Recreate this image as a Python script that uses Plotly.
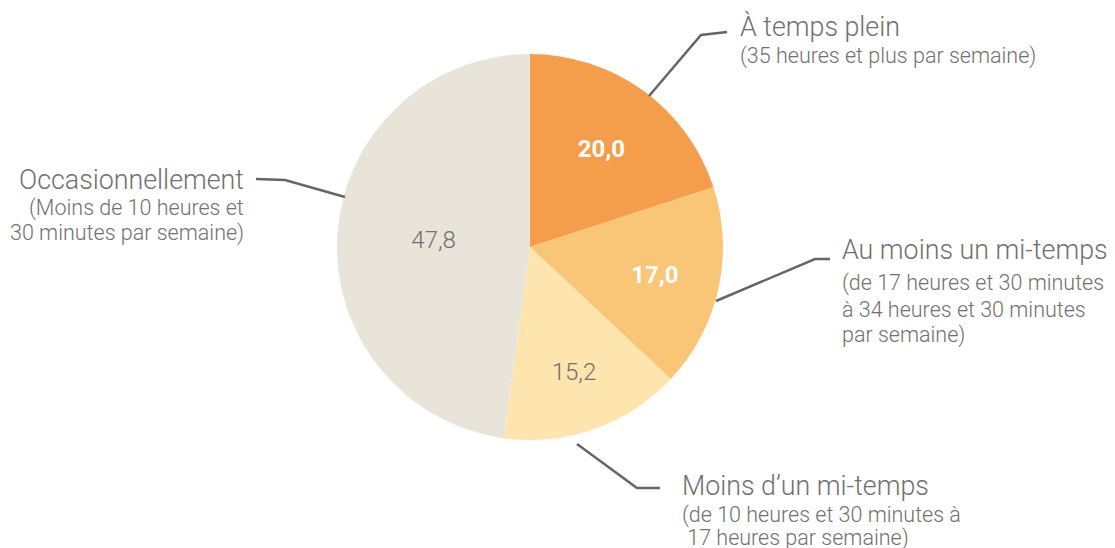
import plotly.graph_objects as go

# ---- data ----
categories = ["À temps plein", "Au moins un mi-temps", "Moins d’un mi-temps", "Occasionnellement"]
subtitles = [
    ["(35 heures et plus par semaine)"],
    ["(de 17 heures et 30 minutes", "à 34 heures et 30 minutes", "par semaine)"],
    ["(de 10 heures et 30 minutes à", " 17 heures par semaine)"],
    ["(Moins de 10 heures et", "30 minutes par semaine)"],
]
values = [20.0, 17.0, 15.2, 47.8]
colors = ["#F49D4A", "#F9C577", "#FEE4AD", "#E8E4D9"]
text_colors = ["#FFFFFF", "#FFFFFF", "#707070", "#707070"]
text_weights = [700, 700, 300, 300]

W, H = 1115, 548
FONT = "Roboto"
GREY = "#707070"

def px(x):
    return x / W

def py(y):
    return 1 - y / H

cx, cy, r = 530, 247, 193

fig = go.Figure(go.Pie(
    labels=categories,
    values=values,
    sort=False,
    direction="clockwise",
    rotation=0,
    marker=dict(colors=colors, line=dict(width=0)),
    texttemplate="%{value:.1f}",
    textposition="inside",
    insidetextorientation="horizontal",
    textfont=dict(family=FONT, size=24, color=text_colors, weight=text_weights),
    hoverinfo="label+value",
    showlegend=False,
    domain=dict(x=[px(cx - r), px(cx + r)], y=[py(cy + r), py(cy - r)]),
))

# label layout (pixel positions of label blocks and leader lines)
label_specs = [
    dict(anchor="left", x=738, ys=[27, 56], line=[(649, 96), (701, 35), (727, 32)]),
    dict(anchor="left", x=840, ys=[250, 283, 309, 335], line=[(716, 301), (815, 259), (830, 259)]),
    dict(anchor="left", x=680, ys=[486, 515, 538], line=[(577, 444), (637, 488), (660, 488)]),
    dict(anchor="right", x=246, ys=[180, 208, 233], line=[(345, 197), (285, 180), (256, 179)]),
]

annotations = []
shapes = []
for cat, subs, spec in zip(categories, subtitles, label_specs):
    lines = [cat] + subs
    for i, (t, y) in enumerate(zip(lines, spec["ys"])):
        annotations.append(dict(
            text=t, x=px(spec["x"]), y=py(y), xref="paper", yref="paper",
            xanchor=spec["anchor"], yanchor="middle", showarrow=False,
            font=dict(family=FONT, size=26.8 if i == 0 else 21.5, color=GREY, weight=300),
        ))
    pts = spec["line"]
    path = "M " + " L ".join(f"{px(a)},{py(b)}" for a, b in pts)
    shapes.append(dict(type="path", path=path, xref="paper", yref="paper",
                       line=dict(color="#666666", width=2.5)))

fig.update_layout(
    width=W, height=H,
    margin=dict(l=0, r=0, t=0, b=0),
    paper_bgcolor="white", plot_bgcolor="white",
    separators=", ",
    annotations=annotations,
    shapes=shapes,
    font=dict(family=FONT, color=GREY),
)

fig.write_html(
    "out.html",
    config={"displayModeBar": False},
    post_script="document.body.style.margin='0';document.body.style.overflow='hidden';",
)
